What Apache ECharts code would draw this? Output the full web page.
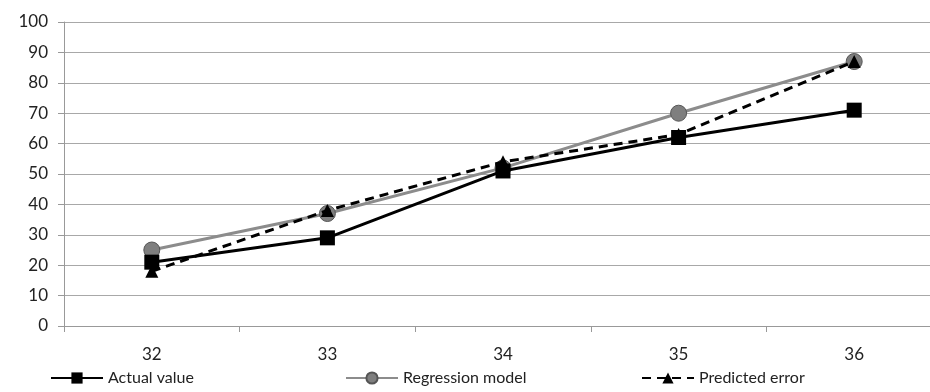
<!DOCTYPE html>
<html><head><meta charset="utf-8">
<script src="https://cdn.jsdelivr.net/npm/echarts@6/dist/echarts.min.js"></script>
<style>html,body{margin:0;padding:0;background:#fff;overflow:hidden;width:930px;height:392px}#c{width:960px;height:392px}</style>
</head><body><div id="c"></div>
<script>
const categories = ['32','33','34','35','36'];
const actualValue = [21, 29, 51, 62, 71];
const regressionModel = [25, 37, 52, 70, 87];
const predictedError = [18, 38, 54, 63, 87];
const yTicks = [0,10,20,30,40,50,60,70,80,90,100];

const font = 'Lato, "Open Sans", sans-serif';
const chart = echarts.init(document.getElementById('c'));
function legend(name, left){
  return {data:[name], left:left, top:365, itemWidth:52, itemHeight:14, itemGap:4,
    textStyle:{fontFamily:font, fontSize:16, color:'#222'}};
}
chart.setOption({
  animation:false,
  grid:{left:64, right:18, top:22, bottom:66},
  legend:[legend('Actual value',45), legend('Regression model',340), legend('Predicted error',636)],
  xAxis:{type:'category', data:categories, boundaryGap:true,
    axisLine:{lineStyle:{color:'#999', width:1}},
    axisTick:{show:true, length:6, lineStyle:{color:'#999'}},
    axisLabel:{fontFamily:font, fontSize:17, color:'#222', margin:20}},
  yAxis:{type:'value', min:yTicks[0], max:yTicks[yTicks.length-1], interval:10,
    axisLine:{show:true, lineStyle:{color:'#999'}},
    axisTick:{show:true, length:6, lineStyle:{color:'#999'}},
    splitLine:{lineStyle:{color:'#a8a8a8', width:1}},
    axisLabel:{fontFamily:font, fontSize:17, color:'#222', margin:16}},
  series:[
    {name:'Actual value', type:'line', data:actualValue, symbol:'rect', symbolSize:15,
      lineStyle:{color:'#000', width:3}, itemStyle:{color:'#000'}, z:3},
    {name:'Regression model', type:'line', data:regressionModel, symbol:'circle', symbolSize:16,
      lineStyle:{color:'#8c8c8c', width:3}, itemStyle:{color:'#7f7f7f', borderColor:'#555', borderWidth:1}, z:2},
    {name:'Predicted error', type:'line', data:predictedError, symbol:'triangle', symbolSize:13,
      lineStyle:{color:'#000', width:3, type:[9,6]}, itemStyle:{color:'#000'}, z:4}
  ]
});
</script></body></html>
